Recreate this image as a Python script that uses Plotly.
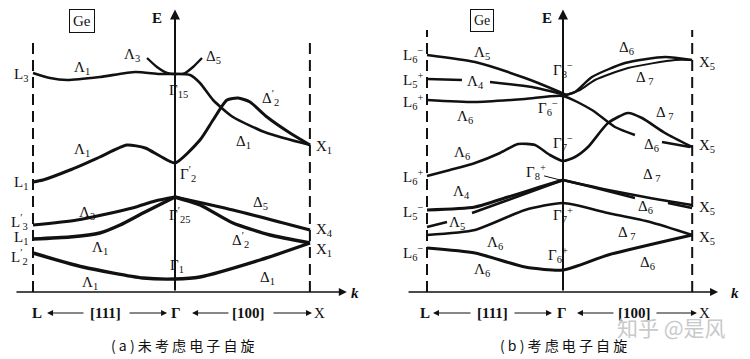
import plotly.graph_objects as go

# ---------------- data: panel (a) without spin ----------------
K_L, K_G, K_X = -1.0, 0.0, 0.95
A_TOP_K = [-1.0, -0.88, -0.76, -0.53, -0.28, -0.11, 0.0, 0.106, 0.176, 0.268, 0.408, 0.648, 0.951]
A_TOP_E = [8.76, 8.56, 8.48, 8.6, 8.8, 8.72, 8.72, 8.68, 8.36, 7.68, 7.0, 6.36, 5.88]
A_PARA_K = [-0.197, -0.127, -0.056, 0.0, 0.07, 0.127, 0.19]
A_PARA_E = [9.36, 9.0, 8.76, 8.72, 8.76, 9.0, 9.36]
A_L1_K = [-1.0, -0.93, -0.74, -0.53, -0.34, -0.21, -0.106, 0.0, 0.176, 0.268, 0.366, 0.444, 0.528, 0.648, 0.81, 0.951]
A_L1_E = [4.4, 4.48, 4.88, 5.4, 5.88, 5.76, 5.44, 5.16, 6.08, 6.88, 7.68, 7.76, 7.6, 7.0, 6.36, 5.88]
A_LAM3_K = [-1.0, -0.69, -0.3, -0.14, 0.0]
A_LAM3_E = [2.68, 2.88, 3.36, 3.64, 3.8]
A_DEL5_K = [0.0, 0.408, 0.951]
A_DEL5_E = [3.8, 3.28, 2.48]
A_LAM1M_K = [-1.0, -0.74, -0.53, -0.387, -0.225, 0.0]
A_LAM1M_E = [2.12, 2.2, 2.36, 2.68, 3.16, 3.8]
A_DEL2_K = [0.0, 0.176, 0.408, 0.669, 0.951]
A_DEL2_E = [3.8, 3.48, 2.76, 2.28, 1.96]
A_BOT_K = [-1.0, -0.648, -0.225, 0.0, 0.176, 0.599, 0.951]
A_BOT_E = [1.56, 1.0, 0.56, 0.52, 0.6, 1.28, 1.96]

# ---------------- data: panel (b) with spin ----------------
B_LAM5_K = [-1.0, -0.647, -0.279, -0.059, 0.022]
B_LAM5_E = [9.48, 9.2, 8.56, 8.08, 7.88]
B_LAM4_K = [-1.0, -0.743, None, -0.537, -0.228, 0.022]
B_LAM4_E = [8.52, 8.48, None, 8.4, 8.2, 7.88]
B_D6U_K = [0.022, 0.088, 0.213, 0.456, 0.75, 0.949]
B_D6U_E = [7.88, 8.0, 8.6, 9.16, 9.4, 9.28]
B_D7U_K = [0.022, 0.125, 0.235, 0.478, 0.824, 0.949]
B_D7U_E = [7.88, 8.08, 8.48, 8.96, 9.28, 9.28]
B_LAM6_K = [-1.0, -0.647, -0.279, 0.0, 0.213, 0.382, 0.529, None, 0.728, 0.934]
B_LAM6_E = [7.68, 7.6, 7.72, 7.84, 7.28, 6.6, 6.28, None, 6.0, 5.8]
B_L6L_K = [-1.0, -0.831, -0.647, -0.463, -0.331, -0.206, -0.096, 0.0, 0.088, 0.184, 0.331, 0.478, 0.581, 0.75, 0.949]
B_L6L_E = [4.64, 4.88, 5.16, 5.56, 5.92, 5.88, 5.48, 5.24, 5.4, 5.8, 6.76, 7.16, 6.96, 6.36, 5.8]
B_LAM4L_K = [-1.0, -0.647, -0.404, -0.169, 0.0]
B_LAM4L_E = [3.28, 3.4, 3.8, 4.2, 4.48]
B_LAM5L_K = [-1.0, -0.853, None, -0.669, -0.404, 0.0]
B_LAM5L_E = [2.6, 2.8, None, 3.16, 3.68, 4.48]
B_D7M_K = [0.0, 0.331, 0.64, 0.949]
B_D7M_E = [4.48, 4.08, 3.76, 3.48]
B_D6M_K = [0.0, 0.213, 0.529, None, 0.772, 0.949]
B_D6M_E = [4.48, 4.2, 3.76, None, 3.56, 3.36]
B_G7P_K = [-1.0, -0.647, -0.279, 0.0, 0.331, 0.64, 0.949]
B_G7P_E = [2.28, 2.48, 3.28, 3.56, 3.16, 2.8, 2.28]
B_BOT_K = [-1.0, -0.647, -0.279, 0.0, 0.331, 0.949]
B_BOT_E = [1.76, 1.56, 1.0, 0.88, 1.48, 2.28]

E_TOP_A = 10.2
E_TOP_B = 10.48

SERIF = "Liberation Serif"
# the page body has an 8px margin: figure fills the rest of the 750x359 window
W, H, OFF = 742, 351, 8
fig = go.Figure()


def band(k, e, xa, ya, w=3.0):
    fig.add_trace(go.Scatter(x=k, y=e, mode="lines", xaxis=xa, yaxis=ya,
                             line=dict(color="#111", width=w, shape="spline", smoothing=0.6),
                             hoverinfo="skip", showlegend=False, connectgaps=False))


for k, e, w in [(A_TOP_K, A_TOP_E, 2.6), (A_PARA_K, A_PARA_E, 2.4), (A_L1_K, A_L1_E, 3),
                (A_LAM3_K, A_LAM3_E, 3.2), (A_DEL5_K, A_DEL5_E, 3.2), (A_LAM1M_K, A_LAM1M_E, 3.4),
                (A_DEL2_K, A_DEL2_E, 3.4), (A_BOT_K, A_BOT_E, 3.4)]:
    band(k, e, "x", "y", w)

for k, e, w in [(B_LAM5_K, B_LAM5_E, 2.6), (B_LAM4_K, B_LAM4_E, 2.4), (B_D6U_K, B_D6U_E, 2.4),
                (B_D7U_K, B_D7U_E, 2.0), (B_LAM6_K, B_LAM6_E, 2.4), (B_L6L_K, B_L6L_E, 2.6),
                (B_LAM4L_K, B_LAM4L_E, 3), (B_LAM5L_K, B_LAM5L_E, 2.6), (B_D7M_K, B_D7M_E, 2.6),
                (B_D6M_K, B_D6M_E, 2.4), (B_G7P_K, B_G7P_E, 2.6), (B_BOT_K, B_BOT_E, 3)]:
    band(k, e, "x2", "y2", w)

# dashed verticals at L and X
for xa, ya, top in [("x", "y", E_TOP_A), ("x2", "y2", E_TOP_B)]:
    for kk in (K_L, K_X):
        fig.add_trace(go.Scatter(x=[kk, kk], y=[0, top], mode="lines", xaxis=xa, yaxis=ya,
                                 line=dict(color="#111", width=2, dash="11px,6px"),
                                 hoverinfo="skip", showlegend=False))

ann = []


def lab(text, x, y, xa, ya, size=15, xanchor="center", **kw):
    ann.append(dict(text=text, x=x, y=y, xref=xa, yref=ya, showarrow=False, xanchor=xanchor,
                    yanchor="middle", font=dict(family=SERIF, size=size, color="#111"), **kw))


def arrow(x, y, ax, ay, xa, ya, w=2, head=2, size=1.0):
    ann.append(dict(text="", x=x, y=y, ax=ax, ay=ay, xref=xa, yref=ya, axref=xa, ayref=ya,
                    showarrow=True, arrowhead=head, arrowsize=size, arrowwidth=w, arrowcolor="#111"))


# axes arrows
arrow(0, 11.3, 0, 0, "x", "y", w=2)
arrow(1.21, 0, -1.127, 0, "x", "y", w=1.6)
arrow(0, 11.3, 0, 0, "x2", "y2", w=2)
arrow(1.14, 0, -1.147, 0, "x2", "y2", w=1.6)

# bottom direction arrows
for (h, t) in [(-0.901, -0.634), (-0.056, -0.331), (0.12, 0.387), (0.965, 0.683)]:
    arrow(h, -0.84, t, -0.84, "x", "y", w=1, size=1.2)
for (h, t) in [(-0.956, -0.669), (-0.081, -0.368), (0.103, 0.382), (0.985, 0.676)]:
    arrow(h, -0.84, t, -0.84, "x2", "y2", w=1, size=1.2)

for xa, ya, pos in [("x", "y", [-0.972, -0.486, 0.007, 0.521, 1.021]),
                    ("x2", "y2", [-1.015, -0.522, -0.007, 0.529, 1.044])]:
    for t, p in zip(["<b>L</b>", "<b>[111]</b>", "<b>Γ</b>", "<b>[100]</b>", "X"], pos):
        lab(t, p, -0.84, xa, ya, size=15)

# panel (a) labels
R = "right"
Lf = "left"
a_labels = [
    ("L<sub>3</sub>", -1.02, 8.68, R), ("Λ<sub>1</sub>", -0.655, 8.96, "center"),
    ("Λ<sub>3</sub>", -0.303, 9.48, "center"), ("Δ<sub>5</sub>", 0.268, 9.4, "center"),
    ("Γ<sub>15</sub>", -0.056, 8.04, Lf), ("Δ<sup>′</sup><sub>2</sub>", 0.669, 7.76, "center"),
    ("Δ<sub>1</sub>", 0.479, 6.0, "center"), ("X<sub>1</sub>", 0.979, 5.8, Lf),
    ("Λ<sub>1</sub>", -0.655, 5.68, "center"), ("Γ<sup>′</sup><sub>2</sub>", 0.02, 4.72, Lf),
    ("L<sub>1</sub>", -1.02, 4.36, R), ("L<sup>′</sup><sub>3</sub>", -1.02, 2.8, R),
    ("L<sub>1</sub>", -1.02, 2.16, R), ("L<sup>′</sup><sub>2</sub>", -1.02, 1.4, R),
    ("Λ<sub>3</sub>", -0.62, 3.16, "center"), ("Γ<sup>′</sup><sub>25</sub>", -0.056, 3.08, Lf),
    ("Δ<sub>5</sub>", 0.599, 3.56, "center"), ("X<sub>4</sub>", 0.979, 2.48, Lf),
    ("X<sub>1</sub>", 0.979, 1.68, Lf), ("Δ<sup>′</sup><sub>2</sub>", 0.458, 2.08, "center"),
    ("Λ<sub>1</sub>", -0.528, 1.76, "center"), ("Γ<sub>1</sub>", -0.05, 1.04, Lf),
    ("Λ<sub>1</sub>", -0.6, 0.36, "center"), ("Δ<sub>1</sub>", 0.648, 0.56, "center"),
    ("<b>E</b>", -0.127, 10.96, "center"), ("<i><b>k</b></i>", 1.268, -0.04, "center"),
]
for t, x, y, anc in a_labels:
    lab(t, x, y, "x", "y", xanchor=anc)
lab("Ge", -0.655, 10.84, "x", "y", size=15, bordercolor="#111", borderwidth=1, borderpad=3)

b_labels = [
    ("L<sub>6</sub><sup>−</sup>", -1.015, 9.48, R), ("Λ<sub>5</sub>", -0.596, 9.56, "center"),
    ("L<sub>5</sub><sup>+</sup>", -1.015, 8.48, R), ("Λ<sub>4</sub>", -0.64, 8.4, "center"),
    ("Γ<sub>8</sub><sup>−</sup>", 0.0, 8.88, "center"), ("Δ<sub>6</sub>", 0.47, 9.76, "center"),
    ("X<sub>5</sub>", 0.985, 9.16, Lf), ("Δ<sub> 7</sub>", 0.603, 8.56, "center"),
    ("L<sub>6</sub><sup>+</sup>", -1.015, 7.6, R), ("Λ<sub>6</sub>", -0.72, 7.0, "center"),
    ("Γ<sub>6</sub><sup>−</sup>", -0.11, 7.36, "center"), ("Δ<sub> 7</sub>", 0.75, 7.16, "center"),
    ("Γ<sub>7</sub><sup>−</sup>", 0.0, 5.96, "center"), ("Δ<sub>6</sub>", 0.654, 5.88, "center"),
    ("X<sub>5</sub>", 0.985, 5.84, Lf), ("Λ<sub>6</sub>", -0.743, 5.56, "center"),
    ("Γ<sub>8</sub><sup>+</sup>", -0.2, 4.8, "center"), ("Δ<sub> 7</sub>", 0.654, 4.68, "center"),
    ("L<sub>6</sub><sup>+</sup>", -1.015, 4.6, R), ("Λ<sub>4</sub>", -0.743, 4.0, "center"),
    ("L<sub>5</sub><sup>−</sup>", -1.015, 3.2, R), ("Λ<sub>5</sub>", -0.78, 2.76, "center"),
    ("Δ<sub>6</sub>", 0.603, 3.4, "center"), ("X<sub>5</sub>", 0.985, 3.36, Lf),
    ("Γ<sub>7</sub><sup>+</sup>", 0.0, 3.08, "center"), ("Δ<sub> 7</sub>", 0.47, 2.36, "center"),
    ("X<sub>5</sub>", 0.985, 2.16, Lf), ("Λ<sub>6</sub>", -0.5, 1.96, "center"),
    ("L<sub>6</sub><sup>−</sup>", -1.015, 1.56, R), ("Γ<sub>6</sub><sup>+</sup>", -0.04, 1.48, "center"),
    ("Λ<sub>6</sub>", -0.596, 0.88, "center"), ("Δ<sub>6</sub>", 0.618, 1.16, "center"),
    ("<b>E</b>", -0.118, 10.96, "center"), ("<i><b>k</b></i>", 1.265, -0.04, "center"),
]
for t, x, y, anc in b_labels:
    lab(t, x, y, "x2", "y2", xanchor=anc)
lab("Ge", -0.596, 10.86, "x2", "y2", size=14, bordercolor="#111", borderwidth=1, borderpad=3)
arrow(-0.02, 4.48, -0.15, 4.66, "x2", "y2", w=1, head=0)


def px(xs, ys):
    return (xs - OFF) / W, 1 - (ys - OFF) / H


# captions and watermark
for text, sx, sy, size, col in [("( a ) 未 考 虑 电 子 自 旋", 183, 345, 14, "#111"),
                                ("( b ) 考 虑 电 子 自 旋", 563, 345, 14, "#111"),
                                ("知乎 @是风", 671, 327, 21, "#c9c9c9")]:
    cx, cy = px(sx, sy)
    ann.append(dict(text=text, x=cx, y=cy, xref="paper", yref="paper", xanchor="center",
                    yanchor="middle", showarrow=False,
                    font=dict(family="Noto Sans CJK SC", size=size, color=col)))

YR = [-2.68, 11.36]
split = (375 - OFF) / W
ax_common = dict(visible=False, showgrid=False, zeroline=False, fixedrange=True)
fig.update_layout(
    width=W, height=H, margin=dict(l=0, r=0, t=0, b=0),
    paper_bgcolor="white", plot_bgcolor="white",
    xaxis=dict(domain=[0, split], range=[(OFF - 175) / 142, 200 / 142], anchor="y", **ax_common),
    yaxis=dict(domain=[0, 1], range=YR, anchor="x", **ax_common),
    xaxis2=dict(domain=[split, 1], range=[(375 - 563) / 136, (750 - 563) / 136], anchor="y2", **ax_common),
    yaxis2=dict(domain=[0, 1], range=YR, anchor="x2", **ax_common),
    annotations=ann, showlegend=False,
)
fig.write_html("out.html")
